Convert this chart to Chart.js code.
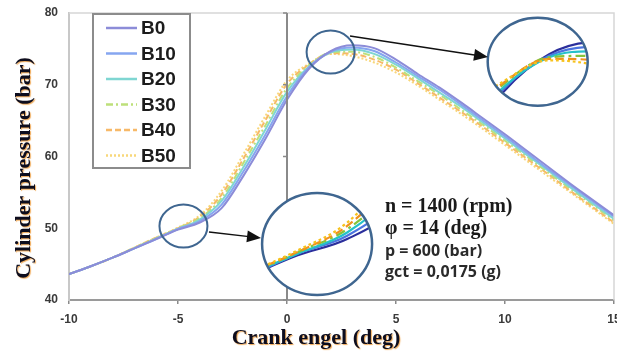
<!DOCTYPE html>
<html>
<head>
<meta charset="utf-8">
<script src="https://cdn.jsdelivr.net/npm/chart.js@4.4.1/dist/chart.umd.min.js"></script>
<style>
  body { margin: 0; background: #fff; }
  #wrap { width: 617px; height: 356px; }
</style>
</head>
<body>
<div id="wrap"><canvas id="pressureChart"></canvas></div>
<script>
// crank angle (deg) and cylinder pressure (bar) per blend
const crankAngle = [-10, -9, -8, -7, -6, -5, -4, -3, -2, -1, 0, 1, 2, 3, 4, 5, 6, 7, 8, 9, 10, 11, 12, 13, 14, 15];
const b0  = [43.6, 44.7, 45.9, 47.2, 48.5, 49.8, 50.8, 52.8, 57.3, 62.4, 67.9, 72.2, 74.7, 75.5, 75.1, 73.5, 71.5, 69.6, 67.5, 65.3, 63.1, 60.8, 58.5, 56.2, 54.0, 51.8];
const b10 = [43.6, 44.7, 45.9, 47.2, 48.5, 49.9, 51.0, 53.3, 57.9, 63.0, 68.4, 72.4, 74.6, 75.2, 74.7, 73.1, 71.2, 69.3, 67.2, 65.0, 62.8, 60.5, 58.2, 56.0, 53.8, 51.6];
const b20 = [43.6, 44.7, 45.9, 47.2, 48.6, 49.9, 51.2, 53.8, 58.5, 63.7, 69.0, 72.5, 74.5, 74.9, 74.3, 72.8, 70.9, 68.9, 66.9, 64.7, 62.5, 60.2, 58.0, 55.7, 53.5, 51.3];
const b30 = [43.6, 44.7, 45.9, 47.3, 48.6, 50.0, 51.4, 54.2, 59.1, 64.3, 69.5, 72.7, 74.5, 74.6, 73.9, 72.4, 70.5, 68.6, 66.5, 64.4, 62.2, 60.0, 57.7, 55.5, 53.3, 51.1];
const b40 = [43.6, 44.7, 45.9, 47.3, 48.7, 50.0, 51.6, 54.7, 59.7, 65.0, 70.1, 72.8, 74.4, 74.3, 73.5, 72.1, 70.2, 68.2, 66.2, 64.1, 61.9, 59.7, 57.5, 55.2, 53.0, 50.8];
const b50 = [43.6, 44.7, 45.9, 47.3, 48.7, 50.1, 51.8, 55.2, 60.3, 65.6, 70.6, 72.9, 74.3, 74.0, 73.1, 71.7, 69.9, 67.9, 65.9, 63.8, 61.6, 59.4, 57.2, 55.0, 52.8, 50.6];
const seriesNames = ['B0', 'B10', 'B20', 'B30', 'B40', 'B50'];
const xTicks = [-10, -5, 0, 5, 10, 15];
const yTicks = [40, 50, 60, 70, 80];
const notes = ['n = 1400 (rpm)', 'φ = 14 (deg)', 'p = 600 (bar)', 'gct = 0,0175 (g)'];

const series = [b0, b10, b20, b30, b40, b50];
const lineColors = ['#8c8cd8', '#86a6f0', '#7fd6d2', '#bde07a', '#f7b968', '#f8d77a'];
const insetColors = ['#2b2f9c', '#4b74e0', '#25c2c8', '#85c43a', '#f0921e', '#f7c21c'];
const dashes = [[], [], [], [7, 3, 2, 3], [6, 3], [2, 2]];

const decorations = {
  id: 'decorations',
  afterDatasetsDraw(chart) {
    const ctx = chart.ctx;
    const xs = chart.scales.x, ys = chart.scales.y;
    const area = chart.chartArea;
    const metas = series.map((s, i) => chart.getDatasetMeta(i).data);

    ctx.save();
    // frame top / right
    ctx.strokeStyle = '#d6d6d6';
    ctx.lineWidth = 1.5;
    ctx.beginPath();
    ctx.moveTo(area.left, area.top); ctx.lineTo(area.right, area.top); ctx.lineTo(area.right, area.bottom);
    ctx.stroke();

    // value axis crossing at 0 deg
    const x0 = xs.getPixelForValue(0);
    ctx.strokeStyle = '#8a8a8a';
    ctx.lineWidth = 2;
    ctx.beginPath(); ctx.moveTo(x0, area.top); ctx.lineTo(x0, area.bottom); ctx.stroke();
    ctx.lineWidth = 1.5;
    yTicks.forEach(v => {
      const y = ys.getPixelForValue(v);
      ctx.beginPath(); ctx.moveTo(x0 - 4, y); ctx.lineTo(x0, y); ctx.stroke();
    });

    // legend box
    ctx.strokeStyle = '#8c8c8c';
    ctx.lineWidth = 2;
    ctx.fillStyle = '#fff';
    ctx.fillRect(93, 14, 97, 154);
    ctx.strokeRect(93, 14, 97, 154);
    ctx.font = 'bold 19px "Liberation Sans", Arial, sans-serif';
    ctx.textBaseline = 'middle';
    seriesNames.forEach((name, i) => {
      const y = 28 + i * 25.5;
      ctx.strokeStyle = lineColors[i];
      ctx.lineWidth = 2.5;
      ctx.setLineDash(dashes[i]);
      ctx.beginPath(); ctx.moveTo(106, y); ctx.lineTo(137, y); ctx.stroke();
      ctx.setLineDash([]);
      ctx.fillStyle = '#1c1c1c';
      ctx.fillText(name, 141, y + 1);
    });

    // magnified insets: small circle on the curves, enlarged copy elsewhere
    const drawInset = (circ, src, dst, rx, ry, mag) => {
      const cx = xs.getPixelForValue(circ[0]), cy = ys.getPixelForValue(circ[1]);
      const sx = xs.getPixelForValue(src[0]), sy = ys.getPixelForValue(src[1]);
      const dx = xs.getPixelForValue(dst[0]), dy = ys.getPixelForValue(dst[1]);
      ctx.save();
      ctx.beginPath(); ctx.ellipse(dx, dy, rx, ry, 0, 0, Math.PI * 2);
      ctx.fillStyle = '#fff'; ctx.fill(); ctx.clip();
      ctx.translate(dx, dy); ctx.scale(mag, mag); ctx.translate(-sx, -sy);
      metas.forEach((pts, i) => {
        ctx.beginPath();
        pts.forEach((p, k) => {
          if (k === 0) ctx.moveTo(p.x, p.y);
          else { const q = pts[k - 1]; ctx.bezierCurveTo(q.cp2x, q.cp2y, p.cp1x, p.cp1y, p.x, p.y); }
        });
        ctx.strokeStyle = insetColors[i];
        ctx.lineWidth = 2.2 / mag;
        ctx.setLineDash(dashes[i].map(d => d * 1.4 / mag));
        ctx.stroke();
      });
      ctx.restore();
      ctx.strokeStyle = '#3f6690';
      ctx.lineWidth = 2.5;
      ctx.setLineDash([]);
      ctx.beginPath(); ctx.ellipse(dx, dy, rx, ry, 0, 0, Math.PI * 2); ctx.stroke();
      ctx.lineWidth = 2;
      ctx.beginPath(); ctx.ellipse(cx, cy, 24, 21.5, 0, 0, Math.PI * 2); ctx.stroke();
    };
    drawInset([2.0, 74.55], [1.75, 74.2], [11.5, 73.2], 50, 44, 2.1);
    drawInset([-4.75, 50.3], [-4.6, 50.5], [1.38, 47.8], 55, 51, 2.3);

    // arrows
    const arrow = (x1, y1, x2, y2) => {
      ctx.strokeStyle = '#111'; ctx.fillStyle = '#111'; ctx.lineWidth = 1.5;
      const a = Math.atan2(y2 - y1, x2 - x1);
      ctx.beginPath(); ctx.moveTo(x1, y1); ctx.lineTo(x2 - 12 * Math.cos(a), y2 - 12 * Math.sin(a)); ctx.stroke();
      ctx.beginPath();
      ctx.moveTo(x2, y2);
      ctx.lineTo(x2 - 14 * Math.cos(a) + 6 * Math.sin(a), y2 - 14 * Math.sin(a) - 6 * Math.cos(a));
      ctx.lineTo(x2 - 14 * Math.cos(a) - 6 * Math.sin(a), y2 - 14 * Math.sin(a) + 6 * Math.cos(a));
      ctx.closePath(); ctx.fill();
    };
    arrow(350, 36, 488, 57);
    arrow(209, 232, 261, 238);

    // operating conditions
    ctx.fillStyle = '#1a1a1a';
    ctx.textBaseline = 'middle';
    ctx.textAlign = 'left';
    ctx.font = 'bold 20px "Liberation Serif", "Times New Roman", serif';
    ctx.fillText(notes[0], 385, 207);
    ctx.fillText(notes[1], 385, 229);
    ctx.font = 'bold 16px "Open Sans", Lato, sans-serif';
    ctx.fillStyle = '#2a2a2a';
    ctx.fillText(notes[2], 385, 251);
    ctx.fillText(notes[3], 385, 272);

    // axis titles
    ctx.font = 'bold 22px "Liberation Serif", "Times New Roman", serif';
    ctx.fillStyle = '#0d0d1e';
    ctx.shadowColor = 'rgba(235, 140, 30, 0.75)';
    ctx.shadowOffsetX = 1; ctx.shadowOffsetY = 1; ctx.shadowBlur = 1;
    ctx.textAlign = 'center';
    ctx.fillText('Crank engel (deg)', 316, 338);
    ctx.translate(24, 168);
    ctx.rotate(-Math.PI / 2);
    ctx.fillText('Cylinder pressure (bar)', 0, 0);
    ctx.restore();
  }
};

new Chart(document.getElementById('pressureChart').getContext('2d'), {
  type: 'line',
  data: {
    datasets: series.map((vals, i) => ({
      label: seriesNames[i],
      data: crankAngle.map((x, k) => ({ x: x, y: vals[k] })),
      borderColor: lineColors[i],
      borderDash: dashes[i],
      borderWidth: 2,
      pointRadius: 0,
      cubicInterpolationMode: 'monotone',
      fill: false
    }))
  },
  options: {
    responsive: true,
    maintainAspectRatio: false,
    animation: false,
    layout: { autoPadding: false, padding: { top: 13, right: 3, left: 0, bottom: 0 } },
    plugins: { legend: { display: false }, tooltip: { enabled: false } },
    scales: {
      x: {
        type: 'linear',
        min: -10, max: 15,
        afterBuildTicks: s => { s.ticks = xTicks.map(v => ({ value: v })); },
        afterFit: s => { s.height = 56; s.paddingLeft = 0; s.paddingRight = 0; },
        grid: { drawOnChartArea: false, drawTicks: true, tickLength: 4, color: '#8a8a8a', lineWidth: 1.5 },
        border: { color: '#9a9a9a', width: 2 },
        ticks: { color: '#3a3a3a', padding: 8, maxRotation: 0, font: { family: '"Liberation Sans", Arial', size: 12, weight: 'bold' } }
      },
      y: {
        min: 40, max: 80,
        afterBuildTicks: s => { s.ticks = yTicks.map(v => ({ value: v })); },
        afterFit: s => { s.width = 69; s.paddingTop = 0; s.paddingBottom = 0; },
        grid: { drawOnChartArea: false, drawTicks: false },
        border: { color: '#c8c8c8', width: 2 },
        ticks: { color: '#3a3a3a', padding: 11, font: { family: '"Liberation Sans", Arial', size: 12, weight: 'bold' } }
      }
    }
  },
  plugins: [decorations]
});
</script>
</body>
</html>
